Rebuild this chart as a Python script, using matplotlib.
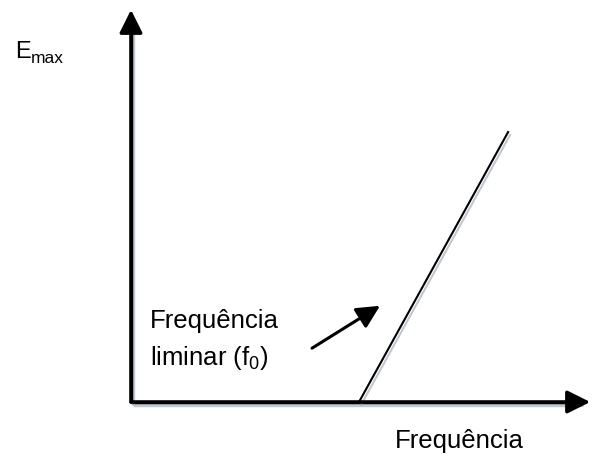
import matplotlib
matplotlib.use("Agg")
import matplotlib.pyplot as plt
import matplotlib.patheffects as pe

plt.rcParams['font.family'] = ['Liberation Sans', 'DejaVu Sans']
plt.rcParams['mathtext.fontset'] = 'custom'
plt.rcParams['mathtext.rm'] = 'Liberation Sans'
plt.rcParams['mathtext.it'] = 'Liberation Sans'

# Data (arbitrary units): threshold frequency f0 and linear rise of Emax
frequency = [5.0, 8.27]
emax = [0.0, 5.92]
axis_x_end = 10.07
axis_y_end = 8.60
pointer_tail = [3.97, 1.18]
pointer_head = [5.46, 2.11]

x_label = "Frequência"
y_label_main = "E"
y_label_sub = "max"
note_line1 = "Frequência"
note_line2 = "liminar (f$_{\\mathregular{0}}$)"

fig = plt.figure(figsize=(5.92, 4.54), dpi=100)
ax = fig.add_axes([0, 0, 1, 1])
s = 45.6
ax.set_xlim(-131 / s, (592 - 131) / s)
ax.set_ylim(-(454 - 402) / s, 402 / s)
ax.axis('off')

shadow = [pe.SimpleLineShadow(offset=(1.5, -2), shadow_color='#9aa4b0', alpha=0.6), pe.Normal()]

# axes with arrows
for end in [(axis_x_end, 0), (0, axis_y_end)]:
    ax.annotate('', xy=end, xytext=(0, 0),
                arrowprops=dict(arrowstyle='-|>,head_length=0.7,head_width=0.35',
                                lw=2.5, color='black', mutation_scale=20,
                                shrinkA=0, shrinkB=0))
ax.plot([0, axis_x_end - 0.2], [0, 0], color='black', lw=2.5, path_effects=shadow,
        solid_capstyle='butt')
ax.plot([0, 0], [0, axis_y_end - 0.2], color='black', lw=2.5, path_effects=shadow,
        solid_capstyle='butt')

# main line
ax.plot(frequency, emax, color='black', lw=1.5, path_effects=shadow)

# pointer arrow
ax.annotate('', xy=pointer_head, xytext=pointer_tail,
            arrowprops=dict(arrowstyle='-|>,head_length=0.7,head_width=0.35',
                            lw=2.2, color='black', mutation_scale=20,
                            shrinkA=0, shrinkB=0))

ax.text(0.417, 1.623, note_line1, fontsize=18.5, ha='left', va='baseline')
ax.text(0.417, 0.811, note_line2, fontsize=18.5, ha='left', va='baseline')
ax.text(5.789, -1.009, x_label, fontsize=18.5, ha='left', va='baseline')
ax.text(-2.544, 7.544, y_label_main, fontsize=17, ha='left', va='baseline')
ax.text(-2.193, 7.435, y_label_sub, fontsize=12.5, ha='left', va='baseline')

fig.savefig('out.png', dpi=100)
